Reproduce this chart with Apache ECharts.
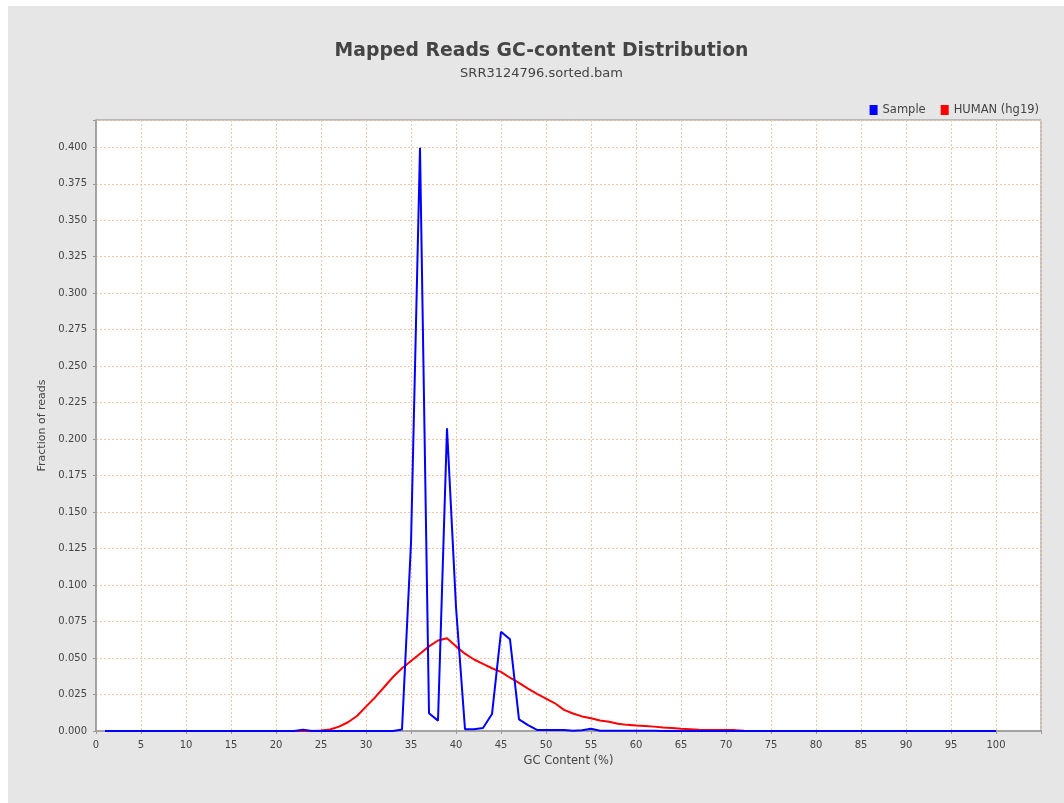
<!DOCTYPE html>
<html>
<head>
<meta charset="utf-8">
<script src="https://cdn.jsdelivr.net/npm/echarts@6/dist/echarts.min.js"></script>
<style>
  html, body { margin: 0; padding: 0; background: #ffffff; }
  #chart { position: absolute; left: 8px; top: 6px; width: 1056px; height: 797px; }
</style>
</head>
<body>
<div id="chart"></div>
<script>
// GC content (%) categories 1..100
const gcContent = [];
for (let i = 1; i <= 100; i++) gcContent.push(i);

// Sample (blue) fraction of reads, GC 1..100
const sampleValues = [
  0, 0, 0, 0, 0, 0, 0, 0, 0, 0,
  0, 0, 0, 0, 0, 0, 0, 0, 0, 0,
  0, 0, 0.0008, 0, 0, 0, 0, 0, 0, 0,
  0, 0, 0, 0.001, 0.1289, 0.3996, 0.0121, 0.0071, 0.2075, 0.085,
  0.0012, 0.0012, 0.002, 0.0116, 0.068, 0.0628, 0.008, 0.004, 0.0007, 0.0007,
  0.0007, 0.0007, 0.0002, 0.0005, 0.0016, 0.0002, 0.0001, 0.0001, 0.0001, 0.0001,
  0.0001, 0.0001, 0, 0, 0, 0, 0, 0, 0, 0,
  0, 0, 0, 0, 0, 0, 0, 0, 0, 0,
  0, 0, 0, 0, 0, 0, 0, 0, 0, 0,
  0, 0, 0, 0, 0, 0, 0, 0, 0, 0
];

// HUMAN (hg19) reference (red), GC 1..100
const humanValues = [
  0, 0, 0, 0, 0, 0, 0, 0, 0, 0,
  0, 0, 0, 0, 0, 0, 0, 0, 0, 0,
  0, 0, 0, 0, 0.0003, 0.001, 0.003, 0.006, 0.0103, 0.0167,
  0.023, 0.030, 0.037, 0.043, 0.048, 0.053, 0.058, 0.062, 0.0635, 0.058,
  0.053, 0.049, 0.046, 0.043, 0.0405, 0.0365, 0.033, 0.029, 0.0255, 0.0222,
  0.019, 0.0145, 0.012, 0.010, 0.0087, 0.0072, 0.0063, 0.005, 0.0042, 0.0037,
  0.0035, 0.003, 0.0024, 0.002, 0.0015, 0.0012, 0.0009, 0.0007, 0.0007, 0.0007,
  0.0006, 0.0001, 0, 0, 0, 0, 0, 0, 0, 0,
  0, 0, 0, 0, 0, 0, 0, 0, 0, 0,
  0, 0, 0, 0, 0, 0, 0, 0, 0, 0
];

const titleText = 'Mapped Reads GC-content Distribution';
const subtitleText = 'SRR3124796.sorted.bam';
const seriesNames = ['Sample', 'HUMAN (hg19)'];
const xAxisTitle = 'GC Content (%)';
const yAxisTitle = 'Fraction of reads';

const samplePairs = gcContent.map((x, i) => [x, sampleValues[i]]);
const humanPairs = gcContent.map((x, i) => [x, humanValues[i]]);

const font = 'DejaVu Sans';
const chart = echarts.init(document.getElementById('chart'));
chart.setOption({
  backgroundColor: '#e6e6e6',
  animation: false,
  graphic: [
    { type: 'text', x: 533.5, y: 45,
      style: { text: titleText, font: 'bold 18.8px "DejaVu Sans"', fill: '#444444',
        textAlign: 'center', textVerticalAlign: 'middle' } },
    { type: 'text', x: 533.5, y: 68,
      style: { text: subtitleText, font: '13px "DejaVu Sans"', fill: '#444444',
        textAlign: 'center', textVerticalAlign: 'middle' } }
  ],
  legend: {
    right: 20, top: 93,
    itemWidth: 8, itemHeight: 10, itemGap: 15,
    icon: 'rect',
    textStyle: { fontFamily: font, fontSize: 11.5, color: '#444444' },
    data: [
      { name: seriesNames[0], itemStyle: { color: '#0000ff' } },
      { name: seriesNames[1], itemStyle: { color: '#ff0000' } }
    ]
  },
  grid: {
    left: 88, right: 23, top: 114, bottom: 72,
    show: true, backgroundColor: '#ffffff', borderColor: '#8a8a8a', borderWidth: 1
  },
  xAxis: {
    type: 'value', min: 0, max: 105, interval: 5, offset: 3,
    name: xAxisTitle, nameLocation: 'middle', nameGap: 21,
    nameTextStyle: { fontFamily: font, fontSize: 11.5, color: '#444444' },
    axisLine: { show: true, lineStyle: { color: '#999999', width: 1.5 } },
    axisTick: { show: true, length: 3, lineStyle: { color: '#999999' } },
    axisLabel: { fontFamily: font, fontSize: 10, color: '#444444', margin: 6,
      formatter: v => (v > 100 ? '' : String(v)) },
    splitLine: { show: true, lineStyle: { color: '#f2c7a6', type: [2, 2], width: 1 } }
  },
  yAxis: {
    type: 'value', min: 0, max: 0.4187, interval: 0.025, offset: 3,
    name: yAxisTitle, nameLocation: 'middle', nameGap: 43, nameRotate: 90,
    nameTextStyle: { fontFamily: font, fontSize: 11, color: '#444444' },
    axisLine: { show: true, lineStyle: { color: '#999999', width: 1.5 } },
    axisTick: { show: true, length: 3, lineStyle: { color: '#999999' } },
    axisLabel: { fontFamily: font, fontSize: 10, color: '#444444', margin: 6,
      formatter: v => {
        const k = Math.round(v / 0.025);
        if (Math.abs(k * 0.025 - v) > 1e-6) return '';
        return (k * 0.025).toFixed(3);
      } },
    splitLine: { show: true, lineStyle: { color: '#f2c7a6', type: [2, 2], width: 1 } }
  },
  series: [
    { name: seriesNames[1], type: 'line', data: humanPairs, showSymbol: false, clip: false,
      lineStyle: { color: '#ff0000', width: 2 }, itemStyle: { color: '#ff0000' }, z: 2 },
    { name: seriesNames[0], type: 'line', data: samplePairs, showSymbol: false, clip: false,
      lineStyle: { color: '#0000ff', width: 2 }, itemStyle: { color: '#0000ff' }, z: 3 }
  ]
});
</script>
</body>
</html>
